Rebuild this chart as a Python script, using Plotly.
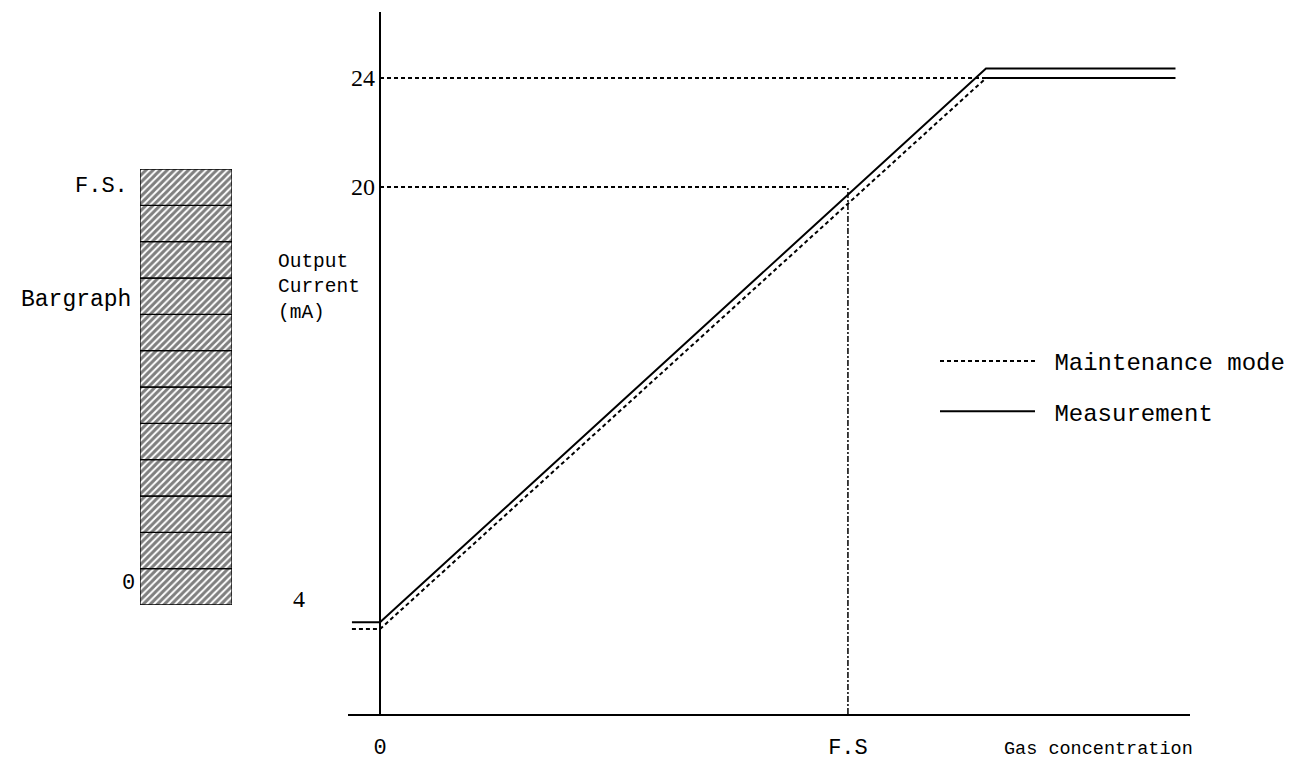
import plotly.graph_objects as go

# ---------------- data ----------------
# x: gas concentration in % of full scale (F.S = 100); y: output current (mA)
meas_x = [-6, 0, 129.5, 170]
meas_y = [4.0, 4.0, 24.35, 24.35]
maint_x = [-6, 0, 129.5, 170]
maint_y = [3.75, 3.75, 24.0, 24.0]

level24_x = [0, 170]
level24_y = [24, 24]
level20_x = [0, 100]
level20_y = [20, 20]
fs_x = [100, 100]

y_tick_vals = [24, 20]
y_tick_text = ["24", "20"]
low_tick_text = "4"
x_tick_vals = [0, 100]
x_tick_text = ["0", "F.S"]

bar_segments = [1] * 12  # bargraph divisions
bar_base = [sum(bar_segments[:i]) for i in range(len(bar_segments))]

# ---------------- layout constants ----------------
W, H = 1305, 759
X_RANGE = [-6.84, 173.1]
Y_RANGE = [0.63, 26.43]
FONT = "Liberation Mono"
SERIF = "Liberation Serif"
fs_y = [Y_RANGE[0], 20]


def px(x):
    return x / W


def py(y):
    return 1 - y / H


fig = go.Figure()

# reference (dotted) levels
for xs, ys in [(level24_x, level24_y), (level20_x, level20_y)]:
    fig.add_trace(go.Scatter(x=xs, y=ys, mode="lines", showlegend=False,
                             line=dict(color="black", width=2, dash="4px,3px"),
                             hoverinfo="skip"))
fig.add_trace(go.Scatter(x=fs_x, y=fs_y, mode="lines", showlegend=False,
                         line=dict(color="black", width=1.5, dash="6px,2px,2px,2px"),
                         hoverinfo="skip"))

# characteristic curves
fig.add_trace(go.Scatter(x=maint_x, y=maint_y, mode="lines",
                         name="\u00a0Maintenance mode", legendgroup="a",
                         line=dict(color="black", width=2, dash="4px,3px")))
fig.add_trace(go.Scatter(x=meas_x, y=meas_y, mode="lines",
                         name="\u00a0Measurement", legendgroup="b",
                         line=dict(color="black", width=2)))

# bargraph
fig.add_trace(go.Bar(x=[0] * len(bar_segments), y=bar_segments, base=bar_base,
                     width=1, xaxis="x2", yaxis="y2", showlegend=False,
                     marker=dict(color="white",
                                 line=dict(color="black", width=1.3),
                                 pattern=dict(shape="/", fgcolor="black",
                                              bgcolor="white", size=5,
                                              solidity=0.6)),
                     hoverinfo="skip"))

annotations = []
# y tick labels
for v, t in zip(y_tick_vals, y_tick_text):
    annotations.append(dict(x=-0.6, y=v, xref="x", yref="y", text=t,
                            showarrow=False, xanchor="right", yanchor="middle",
                            font=dict(family=SERIF, size=24, color="black")))
annotations.append(dict(x=px(291), y=py(591), xref="paper", yref="paper",
                        text=low_tick_text, showarrow=False, xanchor="center",
                        yanchor="middle",
                        font=dict(family=SERIF, size=24, color="black")))

annotations += [
    dict(x=px(268), y=py(280), xref="paper", yref="paper",
         text="Output<br>Current<br>(mA)", align="left", showarrow=False,
         xanchor="left", yanchor="middle",
         font=dict(family=FONT, size=19.5, color="black")),
    dict(x=px(994), y=py(741), xref="paper", yref="paper",
         text="Gas concentration", showarrow=False, xanchor="left",
         yanchor="middle",
         font=dict(family=FONT, size=18.5, color="black")),
    dict(x=px(122), y=py(178), xref="paper", yref="paper",
         text="F.S.", showarrow=False, xanchor="right", yanchor="middle",
         font=dict(family=FONT, size=22, color="black")),
    dict(x=px(125), y=py(292), xref="paper", yref="paper",
         text="Bargraph", showarrow=False, xanchor="right", yanchor="middle",
         font=dict(family=FONT, size=23, color="black")),
    dict(x=px(129), y=py(575), xref="paper", yref="paper",
         text="0", showarrow=False, xanchor="right", yanchor="middle",
         font=dict(family=FONT, size=22, color="black")),
]

fig.update_layout(
    width=W, height=H,
    margin=dict(l=0, r=0, t=0, b=0),
    paper_bgcolor="white", plot_bgcolor="white",
    barmode="overlay",
    showlegend=True,
    legend=dict(x=px(927), y=py(331), xanchor="left", yanchor="top",
                itemwidth=95, traceorder="grouped", tracegroupgap=16,
                font=dict(family=FONT, size=24, color="black"),
                bgcolor="rgba(0,0,0,0)"),
    xaxis=dict(domain=[px(340), px(1182)], range=X_RANGE, anchor="y",
               showgrid=False, showline=True, linecolor="black", linewidth=2,
               zeroline=True, zerolinecolor="black", zerolinewidth=2,
               tickvals=x_tick_vals, ticktext=x_tick_text, ticks="",
               ticklabelstandoff=12,
               tickfont=dict(family=FONT, size=22, color="black")),
    yaxis=dict(domain=[py(706), py(4)], range=Y_RANGE, anchor="x",
               showgrid=False, showline=False, zeroline=False,
               showticklabels=False, ticks=""),
    xaxis2=dict(domain=[px(132), px(224)], range=[-0.5, 0.5], anchor="y2",
                visible=False),
    yaxis2=dict(domain=[py(597), py(161)],
                range=[0, sum(bar_segments)], anchor="x2", visible=False),
    annotations=annotations,
)

fig.write_html("out.html")
